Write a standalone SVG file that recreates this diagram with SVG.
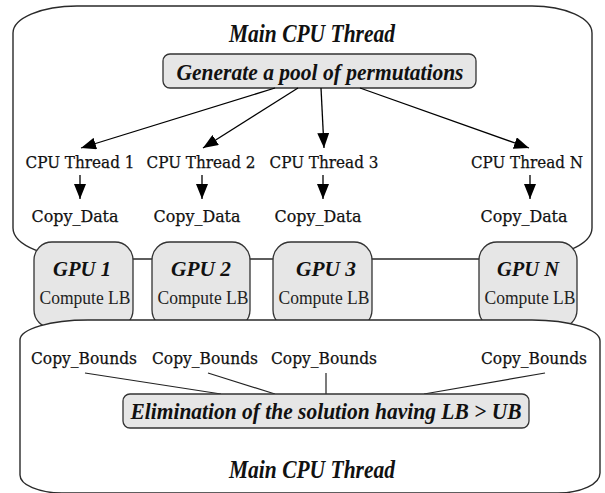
<svg xmlns="http://www.w3.org/2000/svg" width="605" height="493" viewBox="0 0 605 493">
<style>
.cont{fill:#fff;stroke:#2a2a2a;stroke-width:1.4}
.box{fill:#e6e6e6;stroke:#333;stroke-width:1.3}
.t{font-family:"Liberation Serif","Times New Roman",serif;font-weight:bold;font-style:italic;fill:#111;text-anchor:middle}
.cm{font-family:"DejaVu Serif",serif;font-size:16.5px;fill:#111;stroke:#111;stroke-width:0.25;text-anchor:middle}
.cl{font-family:"Liberation Serif","Times New Roman",serif;font-size:19px;fill:#222;text-anchor:middle}
.arr{stroke:#000;stroke-width:1.3;fill:none;marker-end:url(#ah)}
.ln{stroke:#222;stroke-width:1.2;fill:none}
</style>
<defs>
<marker id="ah" viewBox="0 0 15 12" refX="15" refY="6" markerWidth="15" markerHeight="12" markerUnits="userSpaceOnUse" orient="auto">
<path d="M0,0 L15,6 L0,12 Z" fill="#000"/>
</marker>
</defs>
<g id="top-container">
<path class="cont" d="M77,6 L532,6 A60,27 0 0 1 592,33 L592,228 A75,31 0 0 1 517,259 L88,259 A75,31 0 0 1 13,228 L13,33 A64,27 0 0 1 77,6 Z"/>
<text class="t" x="312" y="42" font-size="25" textLength="166" lengthAdjust="spacingAndGlyphs">Main CPU Thread</text>
</g>
<g id="generate">
<rect class="box" x="163" y="54" width="313" height="34" rx="7"/>
<text class="t" x="320" y="80" font-size="24" textLength="287" lengthAdjust="spacingAndGlyphs">Generate a pool of permutations</text>
</g>
<g id="connectors-top">
<line class="arr" x1="275" y1="88" x2="81" y2="148"/>
<line class="arr" x1="298" y1="88" x2="203" y2="148"/>
<line class="arr" x1="321" y1="88" x2="324" y2="148"/>
<line class="arr" x1="360" y1="88" x2="529" y2="148"/>
<line class="arr" x1="80" y1="175" x2="80" y2="199"/>
<line class="arr" x1="202" y1="175" x2="202" y2="199"/>
<line class="arr" x1="323" y1="175" x2="323" y2="199"/>
<line class="arr" x1="530" y1="175" x2="530" y2="199"/>
</g>
<g id="cpu-thread-1"><text class="cm" x="80" y="168" textLength="109" lengthAdjust="spacingAndGlyphs">CPU Thread 1</text><text class="cm" x="75" y="222" textLength="87" lengthAdjust="spacingAndGlyphs">Copy_Data</text></g>
<g id="cpu-thread-2"><text class="cm" x="201" y="168" textLength="109" lengthAdjust="spacingAndGlyphs">CPU Thread 2</text><text class="cm" x="197" y="222" textLength="87" lengthAdjust="spacingAndGlyphs">Copy_Data</text></g>
<g id="cpu-thread-3"><text class="cm" x="324" y="168" textLength="109" lengthAdjust="spacingAndGlyphs">CPU Thread 3</text><text class="cm" x="318" y="222" textLength="87" lengthAdjust="spacingAndGlyphs">Copy_Data</text></g>
<g id="cpu-thread-n"><text class="cm" x="527" y="168" textLength="112" lengthAdjust="spacingAndGlyphs">CPU Thread N</text><text class="cm" x="524" y="222" textLength="87" lengthAdjust="spacingAndGlyphs">Copy_Data</text></g>
<g id="gpu-1"><rect class="box" x="34" y="242" width="99" height="86" rx="18"/><text class="t" x="82" y="276" font-size="22" textLength="58" lengthAdjust="spacingAndGlyphs">GPU 1</text><text class="cl" x="85" y="304" textLength="91" lengthAdjust="spacingAndGlyphs">Compute LB</text></g>
<g id="gpu-2"><rect class="box" x="152" y="242" width="98" height="86" rx="18"/><text class="t" x="201" y="276" font-size="22" textLength="60" lengthAdjust="spacingAndGlyphs">GPU 2</text><text class="cl" x="203" y="304" textLength="91" lengthAdjust="spacingAndGlyphs">Compute LB</text></g>
<g id="gpu-3"><rect class="box" x="273" y="242" width="99" height="86" rx="18"/><text class="t" x="326" y="276" font-size="22" textLength="60" lengthAdjust="spacingAndGlyphs">GPU 3</text><text class="cl" x="324" y="304" textLength="91" lengthAdjust="spacingAndGlyphs">Compute LB</text></g>
<g id="gpu-n"><rect class="box" x="479" y="242" width="98" height="86" rx="18"/><text class="t" x="528" y="276" font-size="22" textLength="62" lengthAdjust="spacingAndGlyphs">GPU N</text><text class="cl" x="530" y="304" textLength="91" lengthAdjust="spacingAndGlyphs">Compute LB</text></g>
<g id="bottom-container">
<path class="cont" d="M88,320 L532,320 A68,21 0 0 1 600,341 L600,473 A42,20 0 0 1 558,493 L62,493 A42,18 0 0 1 20,475 L20,340 A68,20 0 0 1 88,320 Z"/>
<text class="t" x="312" y="478" font-size="25" textLength="166" lengthAdjust="spacingAndGlyphs">Main CPU Thread</text>
</g>
<g id="copy-bounds">
<text class="cm" x="84" y="364" textLength="106" lengthAdjust="spacingAndGlyphs">Copy_Bounds</text>
<text class="cm" x="205" y="364" textLength="106" lengthAdjust="spacingAndGlyphs">Copy_Bounds</text>
<text class="cm" x="324" y="364" textLength="106" lengthAdjust="spacingAndGlyphs">Copy_Bounds</text>
<text class="cm" x="534" y="364" textLength="106" lengthAdjust="spacingAndGlyphs">Copy_Bounds</text>
</g>
<g id="connectors-bottom">
<line class="ln" x1="85" y1="373" x2="221" y2="394"/>
<line class="ln" x1="208" y1="373" x2="275" y2="394"/>
<line class="ln" x1="326" y1="373" x2="326" y2="394"/>
<line class="ln" x1="545" y1="373" x2="424" y2="394"/>
</g>
<g id="elimination">
<rect class="box" x="123" y="394" width="406" height="34" rx="7"/>
<text class="t" x="326" y="419" font-size="23" textLength="391" lengthAdjust="spacingAndGlyphs">Elimination of the solution having LB &gt; UB</text>
</g>
</svg>
